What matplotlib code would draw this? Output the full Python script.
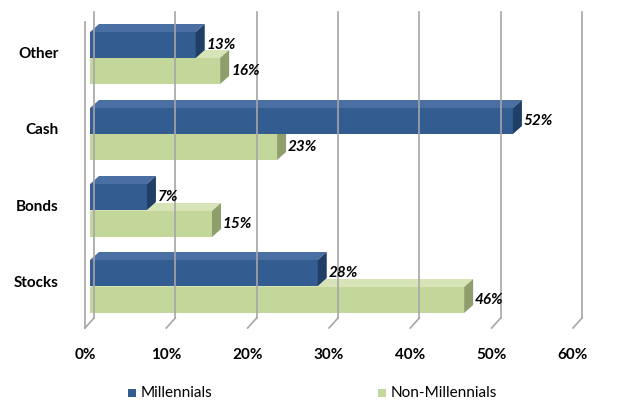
import matplotlib
matplotlib.use("Agg")
import matplotlib.pyplot as plt
from matplotlib.patches import Polygon

categories = ["Other", "Cash", "Bonds", "Stocks"]
millennials = [13, 52, 7, 28]
non_millennials = [16, 23, 15, 46]
ticks = [0, 10, 20, 30, 40, 50, 60]

fig = plt.figure(figsize=(6.37, 4.15), dpi=100)
ax = fig.add_axes([85/637, 0, (615-85)/637, 1])
pxu = 60/488.0  # data units per pixel in x
ax.set_xlim(0, 530*pxu)
ax.set_ylim(415, 0)
ax.axis("off")
font = "Lato"

dx, dy = 9*pxu, -8
top, floor = 12, 318
off = 5*pxu
for t in ticks:
    ax.plot([t+dx, t+dx], [top, floor], color="#A6A6A6", lw=1.2, clip_on=False)
    ax.plot([t, t+dx], [floor+10, floor], color="#A6A6A6", lw=1.2, clip_on=False)
    ax.text(t, 355, f"{t}%", ha="center", va="center", fontsize=11, fontweight="bold", fontfamily=font)
ax.plot([0, 0], [top+10, floor+10], color="#A6A6A6", lw=1.2, clip_on=False)

cols = {"m": ("#335C91", "#4A6FA3", "#203F66"), "n": ("#C4D79B", "#D6E4B8", "#8E9F6C")}
centers = [(45, 71), (121, 147), (197, 224), (273, 300)]
h = 26

def bar(v, yc, c):
    front, topc, side = c
    y0, y1 = yc - h/2, yc + h/2
    x0, x1 = off, v + off
    ax.add_patch(Polygon([(x0, y0), (x1, y0), (x1, y1), (x0, y1)], closed=True, fc=front, ec="none", clip_on=False))
    ax.add_patch(Polygon([(x0, y0), (x1, y0), (x1+dx, y0+dy), (x0+dx, y0+dy)], closed=True, fc=topc, ec="none", clip_on=False))
    ax.add_patch(Polygon([(x1, y0), (x1+dx, y0+dy), (x1+dx, y1+dy), (x1, y1)], closed=True, fc=side, ec="none", clip_on=False))
    ax.text(x1 + dx + 2*pxu, yc, f"{v}%", ha="left", va="center", fontsize=11,
            fontweight="bold", fontstyle="italic", fontfamily=font)

for cat, m, n, (cm, cn) in zip(categories, millennials, non_millennials, centers):
    bar(n, cn, cols["n"])
    bar(m, cm, cols["m"])
    ax.text(-3.2, (cm+cn)/2 - 4, cat, ha="right", va="center", fontsize=11, fontweight="bold", fontfamily=font)

fig.patches.append(plt.Rectangle((128/637, 1-397/415), 8/637, 8/415, transform=fig.transFigure, fc="#335C91"))
fig.text(141/637, 1-393/415, "Millennials", fontsize=11, va="center", fontfamily=font)
fig.patches.append(plt.Rectangle((378/637, 1-397/415), 8/637, 8/415, transform=fig.transFigure, fc="#C4D79B"))
fig.text(391/637, 1-393/415, "Non-Millennials", fontsize=11, va="center", fontfamily=font)

fig.savefig("out.png", dpi=100)
